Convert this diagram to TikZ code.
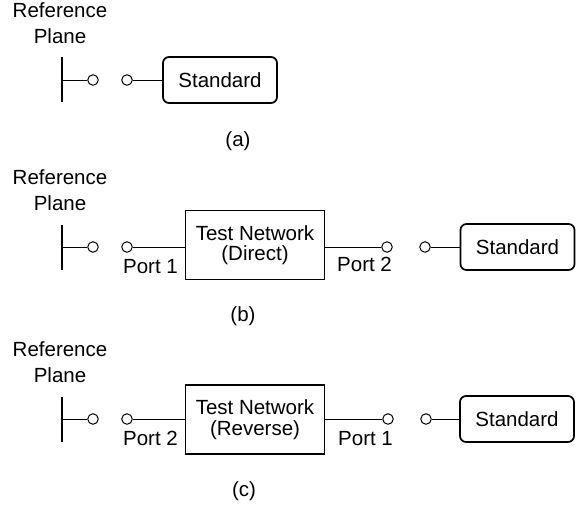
\documentclass[tikz,border=0pt]{standalone}
\usepackage{fontspec}
\setmainfont{Liberation Sans}
\usetikzlibrary{positioning}
\tikzset{
	% text style
	lbl/.style={
		font=\fontsize{20.5}{26}\selectfont,
		inner sep=0pt,
		align=center
	},
	% rounded box for the standard
	stdbox/.style={
		rectangle,
		rounded corners=6pt,
		draw=black, line width=1.7pt,
		minimum width=114pt,
		minimum height=46pt,
		font=\fontsize{20.5}{24}\selectfont
	},
	% box for the test network
	netbox/.style={
		rectangle,
		draw=black, line width=1.9pt,
		minimum width=139pt,
		minimum height=69pt,
		align=center,
		font=\fontsize{20.5}{20.5}\selectfont
	},
	% open terminal
	term/.style={
		circle,
		draw=black, line width=1pt,
		fill=white,
		inner sep=0pt,
		minimum size=10.5pt
	},
	% connecting wire
	wire/.style={
		line width=1pt
	},
	% reference plane bar
	plane/.style={
		line width=2.2pt
	}
}
\begin{document}
\begin{tikzpicture}[x=1pt, y=-1pt]
	\useasboundingbox (0,0) rectangle (585,504);

	% (a)
	\node[lbl] (refa) at (60,23) {Reference \\ Plane};
	\coordinate (rpa) at (62,80);
	\draw[plane] (62,57) -- (62,102);
	\node[term] (ta1) at (93,80) {};
	\node[term] (ta2) at (127,80) {};
	\node[stdbox] (stda) at (220,80) {Standard};
	\node[lbl] (capa) at (238,141) {(a)};

	\draw[wire] (rpa) -- (ta1);
	\draw[wire] (ta2) -- (stda);

	% (b)
	\node[lbl] (refb) at (60,190) {Reference \\ Plane};
	\coordinate (rpb) at (62,247);
	\draw[plane] (62,225) -- (62,270);
	\node[term] (tb1) at (93,247) {};
	\node[term] (tb2) at (127,247) {};
	\node[netbox] (netb) at (255,245) {Test Network \\ (Direct)};
	\node[term] (tb3) at (387,247) {};
	\node[term] (tb4) at (425,247) {};
	\node[stdbox] (stdb) at (517.5,247) {Standard};
	\node[lbl,anchor=north west] (portb1) at ([yshift=-8pt]tb2.south west) {Port 1};
	\node[lbl,anchor=north east] (portb2) at ([xshift=1pt,yshift=-6pt]tb3.south east) {Port 2};
	\node[lbl] (capb) at (243,316) {(b)};

	\draw[wire] (rpb) -- (tb1);
	\draw[wire] (tb2) -- (tb2 -| netb.west);
	\draw[wire] (tb3 -| netb.east) -- (tb3);
	\draw[wire] (tb4) -- (stdb);

	% (c)
	\node[lbl] (refc) at (60,362) {Reference \\ Plane};
	\coordinate (rpc) at (62,419);
	\draw[plane] (62,397) -- (62,442);
	\node[term] (tc1) at (93,419) {};
	\node[term] (tc2) at (127,419) {};
	\node[netbox] (netc) at (255,419.5) {Test Network \\ (Reverse)};
	\node[term] (tc3) at (388,419) {};
	\node[term] (tc4) at (426,419) {};
	\node[stdbox] (stdc) at (517,419) {Standard};
	\node[lbl,anchor=north west] (portc1) at ([yshift=-8pt]tc2.south west) {Port 2};
	\node[lbl,anchor=north east] (portc2) at ([xshift=1pt,yshift=-8pt]tc3.south east) {Port 1};
	\node[lbl] (capc) at (244,491) {(c)};

	\draw[wire] (rpc) -- (tc1);
	\draw[wire] (tc2) -- (tc2 -| netc.west);
	\draw[wire] (tc3 -| netc.east) -- (tc3);
	\draw[wire] (tc4) -- (stdc);
\end{tikzpicture}
\end{document}
